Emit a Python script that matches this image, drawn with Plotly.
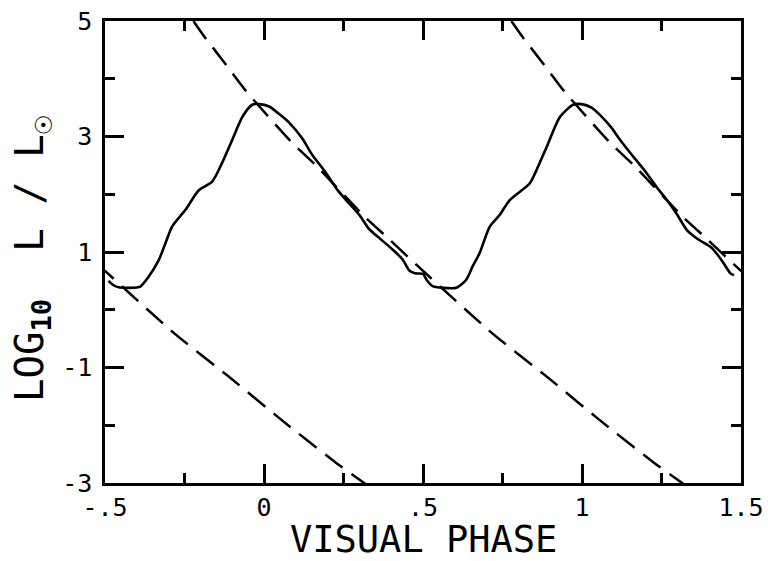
import plotly.graph_objects as go

# Light curve: luminosity versus visual phase (plotted over two cycles)
PHASE_CURVE = [-0.489, -0.472, -0.457, -0.435, -0.41, -0.389, -0.363, -0.331, -0.31, -0.289,
               -0.247, -0.205, -0.163, -0.132, -0.10, -0.068, -0.037, -0.016, 0.016, 0.05,
               0.079, 0.12, 0.152, 0.195, 0.23, 0.258, 0.30, 0.33, 0.363, 0.405,
               0.436, 0.457, 0.475, 0.50, 0.511, 0.53, 0.562, 0.605, 0.636, 0.656,
               0.678, 0.710, 0.741, 0.773, 0.836, 0.857, 0.889, 0.931, 0.972, 0.999,
               1.03, 1.057, 1.09, 1.12, 1.16, 1.204, 1.235, 1.267, 1.30, 1.330,
               1.365, 1.404, 1.425, 1.446, 1.467, 1.478]
LOGL_CURVE = [0.50, 0.42, 0.39, 0.38, 0.38, 0.40, 0.57, 0.86, 1.15, 1.44,
              1.73, 2.07, 2.22, 2.54, 2.94, 3.34, 3.55, 3.56, 3.52, 3.38,
              3.24, 2.97, 2.68, 2.37, 2.08, 1.90, 1.64, 1.40, 1.24, 1.04,
              0.87, 0.68, 0.63, 0.62, 0.52, 0.41, 0.38, 0.38, 0.52, 0.75,
              0.98, 1.44, 1.64, 1.90, 2.19, 2.42, 2.82, 3.34, 3.55, 3.56,
              3.50, 3.37, 3.17, 2.94, 2.66, 2.36, 2.12, 1.90, 1.64, 1.38,
              1.22, 1.09, 0.96, 0.80, 0.63, 0.60]

# Decline track (dashed), repeated once per cycle
DASH_PHASE = [-0.222, -0.189, -0.123, -0.057, 0.087, 0.165, 0.315, 0.394, 0.473,
              0.716, 0.883, 1.051, 1.224, 1.32]
DASH_LOGL = [5.0, 4.74, 4.27, 3.79, 2.90, 2.49, 1.62, 1.22, 0.81,
             -0.40, -1.13, -1.89, -2.64, -3.02]
CYCLE_OFFSETS = [-1, 0, 1]

X_TICKS = [-0.5, 0, 0.5, 1, 1.5]
X_TICK_TEXT = ["-.5", "0", ".5", "1", "1.5"]
X_MINOR = [-0.25, 0.25, 0.75, 1.25]
Y_TICKS = [-3, -1, 1, 3, 5]
Y_TICK_TEXT = ["-3", "-1", "1", "3", "5"]
Y_MINOR = [-2, 0, 2, 4]

FONT = "DejaVu Sans Mono"

fig = go.Figure()

for off in CYCLE_OFFSETS:
    fig.add_trace(go.Scatter(
        x=[p + off for p in DASH_PHASE], y=DASH_LOGL, mode="lines",
        line=dict(color="black", width=2.5, dash="22px,11px", shape="spline", smoothing=0.6),
        showlegend=False, hoverinfo="skip"))

fig.add_trace(go.Scatter(
    x=PHASE_CURVE, y=LOGL_CURVE, mode="lines",
    line=dict(color="black", width=2.6, shape="spline", smoothing=0.7),
    showlegend=False))

axis_common = dict(
    showline=True, linecolor="black", linewidth=2.5, mirror="allticks",
    ticks="inside", ticklen=19, tickwidth=2.5, tickcolor="black",
    showgrid=False, zeroline=False, automargin=False,
    tickfont=dict(family=FONT, size=25, color="black"),
)

fig.update_xaxes(
    range=[-0.5, 1.5], tickmode="array", tickvals=X_TICKS, ticktext=X_TICK_TEXT,
    minor=dict(tickmode="array", tickvals=X_MINOR, ticks="inside", ticklen=10,
               tickwidth=2.5, tickcolor="black"),
    ticklabelstandoff=0,
    **axis_common)

fig.update_yaxes(
    range=[-3, 5], tickmode="array", tickvals=Y_TICKS, ticktext=Y_TICK_TEXT,
    minor=dict(tickmode="array", tickvals=Y_MINOR, ticks="inside", ticklen=10,
               tickwidth=2.5, tickcolor="black"),
    ticklabelstandoff=5,
    **axis_common)

# Axis titles
fig.add_annotation(
    text="VISUAL PHASE", xref="paper", yref="paper", x=0.5, y=-0.122,
    xanchor="center", yanchor="middle", showarrow=False,
    font=dict(family=FONT, size=37, color="black"))

fig.add_annotation(
    text="LOG<sub><b>10</b></sub>  L / L<span style='font-size:44px'><sub><b>☉</b></sub></span>",
    xref="paper", yref="paper", x=-0.113, y=0.485,
    xanchor="center", yanchor="middle", textangle=-90, showarrow=False,
    font=dict(family=FONT, size=39, color="black"))

fig.update_layout(
    width=768, height=561,
    margin=dict(l=105, r=27, t=21, b=78),
    plot_bgcolor="white", paper_bgcolor="white",
)

fig.write_html("out.html")
